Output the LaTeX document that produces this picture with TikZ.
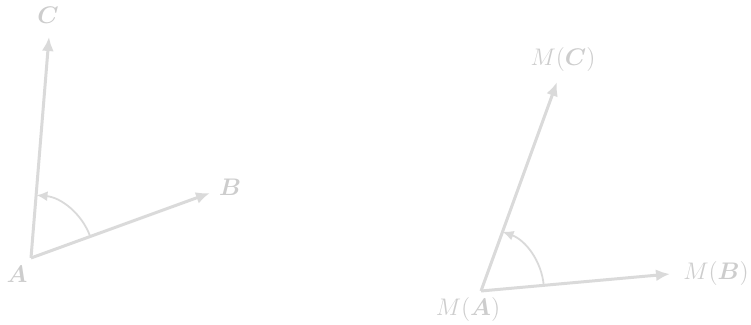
\documentclass[tikz,border=0pt]{standalone}
\usepackage{amsmath,bm}
\usetikzlibrary{arrows.meta,calc}
\definecolor{lg}{RGB}{218,218,218}
\definecolor{lt}{RGB}{205,205,205}
\tikzset{
  vec/.style={draw=lg,line width=1.5pt,-{Latex[length=7pt,width=6pt]}},
  ang/.style={draw=lg,line width=0.9pt,-{Latex[length=5.5pt,width=5pt]}},
  lbl/.style={text=lt,inner sep=0pt,font=\large}
}
\begin{document}
\begin{tikzpicture}[x=0.5pt,y=0.5pt]
\useasboundingbox (0,0) rectangle (751,325);
% left
\coordinate (A) at (31,67);
\coordinate (B) at (210,132);
\coordinate (C) at (49,288);
\draw[vec] (A) -- (B);
\draw[vec] (A) -- (C);
\draw[ang] ($(A)+(20:31.5pt)$) arc[start angle=20,end angle=85,radius=31.5pt];
\node[lbl] (lA) at (17,51) {$\bm{A}$};
\node[lbl] (lB) at (230,138) {$\bm{B}$};
\node[lbl] (lC) at (48,310) {$\bm{C}$};
% right
\coordinate (MA) at (481,34);
\coordinate (MB) at (670,51);
\coordinate (MC) at (557,243);
\draw[vec] (MA) -- (MB);
\draw[vec] (MA) -- (MC);
\draw[ang] ($(MA)+(5.1:31.5pt)$) arc[start angle=5.1,end angle=70,radius=31.5pt];
\node[lbl] (lMA) at (468,15) {$M(\bm{A})$};
\node[lbl] (lMB) at (716,51) {$M(\bm{B})$};
\node[lbl] (lMC) at (563,265) {$M(\bm{C})$};
\end{tikzpicture}
\end{document}
